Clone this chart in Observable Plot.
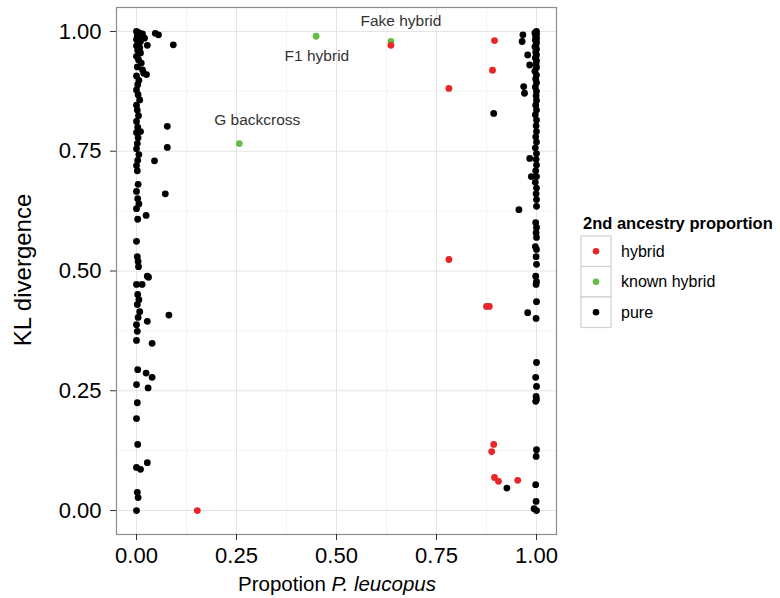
<!DOCTYPE html>
<html><head><meta charset="utf-8">
<script src="https://cdn.jsdelivr.net/npm/d3@7"></script>
<script src="https://cdn.jsdelivr.net/npm/@observablehq/plot@0.6"></script>
<style>body{margin:0;background:#fff;font-family:"Liberation Sans",Arial,Helvetica,sans-serif}</style>
</head><body><div id="chart"></div>
<script>
// ---- data ----
const pureLeftX = [0.000,0.004,0.008,0.015,0.020,0.002,0.006,0.000,0.010,0.004,0.000,0.008,0.003,0.010,0.000,0.005,0.012,0.002,0.015,0.000,0.006,0.003,0.000,0.004,0.008,0.000,0.002,0.005,0.000,0.003,0.000,0.004,0.002,0.000,0.006,0.003,0.000,0.002,0.004,0.000,0.003,0.006,0.000,0.003,0.000,0.002,0.004,0.005,0.000,0.003,0.006,0.002,0.008,0.004,0.000,0.002,0.000,0.003,0.000,0.002,0.000,0.003,0.000,0.002,0.004];
const pureLeftY = [1.000,0.998,0.996,0.995,0.986,0.990,0.987,0.983,0.979,0.975,0.970,0.966,0.961,0.955,0.948,0.941,0.934,0.926,0.920,0.907,0.898,0.889,0.878,0.868,0.857,0.846,0.836,0.824,0.812,0.800,0.789,0.778,0.766,0.755,0.743,0.731,0.720,0.709,0.681,0.666,0.651,0.640,0.630,0.608,0.562,0.530,0.520,0.509,0.472,0.451,0.440,0.430,0.415,0.403,0.388,0.374,0.355,0.294,0.263,0.225,0.192,0.138,0.090,0.038,0.027];
const pureLeftExtraX = [0.047,0.055,0.027,0.092,0.018,0.025,0.077,0.010,0.077,0.045,0.072,0.024,0.027,0.030,0.014,0.081,0.027,0.039,0.024,0.039,0.029,0.027,0.010,0.000];
const pureLeftExtraY = [0.996,0.993,0.971,0.972,0.913,0.910,0.802,0.791,0.758,0.730,0.661,0.616,0.489,0.487,0.472,0.408,0.395,0.349,0.287,0.278,0.256,0.100,0.086,0.000];
const pureRightX = [1.000,0.996,1.000,0.998,1.000,0.997,1.000,0.999,0.996,1.000,0.998,1.000,0.997,1.000,0.999,1.000,0.996,1.000,0.998,1.000,0.997,1.000,0.999,1.000,0.998,1.000,0.997,1.000,0.999,1.000,0.998,1.000,0.997,1.000,0.999,1.000,0.998,1.000,0.997,1.000,0.999,1.000,1.000,0.998,1.000,0.999,1.000,0.997,1.000,0.999,1.000,0.998,1.000,0.999,1.000,0.999,1.000,0.998,1.000,0.999,1.000,0.998,1.000,0.999,0.998,0.994,1.000];
const pureRightY = [1.000,0.997,0.994,0.990,0.986,0.982,0.978,0.973,0.968,0.963,0.957,0.951,0.945,0.939,0.932,0.925,0.917,0.909,0.901,0.893,0.884,0.875,0.866,0.856,0.846,0.836,0.826,0.815,0.803,0.791,0.780,0.769,0.757,0.745,0.733,0.721,0.709,0.697,0.685,0.673,0.661,0.649,0.635,0.601,0.591,0.580,0.570,0.551,0.545,0.530,0.514,0.489,0.478,0.472,0.436,0.401,0.309,0.278,0.259,0.238,0.232,0.228,0.127,0.113,0.054,0.004,0.000];
const pureRightExtraX = [0.966,0.964,0.978,0.983,0.968,0.970,0.983,0.987,0.956,0.978,0.926,0.893,0.999];
const pureRightExtraY = [0.993,0.979,0.951,0.930,0.885,0.871,0.735,0.697,0.628,0.413,0.047,0.829,0.019];
const hybridX = [0.152,0.636,0.781,0.895,0.890,0.781,0.875,0.882,0.893,0.888,0.895,0.905,0.953];
const hybridY = [0.000,0.971,0.881,0.981,0.919,0.524,0.426,0.426,0.138,0.123,0.069,0.061,0.063];
const knownX = [0.449,0.636,0.257];
const knownY = [0.990,0.979,0.766];
const labelText = ["F1 hybrid","Fake hybrid","G backcross"];
const labelX = [0.451,0.661,0.302];
const labelY = [0.948,1.021,0.816];
const categories = ["hybrid","known hybrid","pure"];
const colors = ["#e8262a","#66bd45","#000000"];
const majorTicks = [0,0.25,0.5,0.75,1];
const minorTicks = [0.125,0.375,0.625,0.875];

// ---- build rows ----
const rows = [];
const add = (xs, ys, g) => xs.forEach((x, i) => rows.push({x, y: ys[i], g}));
add(pureLeftX, pureLeftY, "pure");
add(pureLeftExtraX, pureLeftExtraY, "pure");
add(pureRightX, pureRightY, "pure");
add(pureRightExtraX, pureRightExtraY, "pure");
add(knownX, knownY, "known hybrid");
add(hybridX, hybridY, "hybrid");
const labels = labelText.map((t, i) => ({t, x: labelX[i], y: labelY[i]}));

const W = 780, H = 598;
const FONT = '"Liberation Sans", Arial, Helvetica, sans-serif';
const svg = Plot.plot({
  width: W, height: H,
  marginLeft: 116, marginRight: 224, marginTop: 7, marginBottom: 64,
  style: {fontFamily: FONT, background: "#fff"},
  x: {domain: [-0.05, 1.05]},
  y: {domain: [-0.05, 1.05]},
  color: {domain: categories, range: colors},
  marks: [
    Plot.ruleX(minorTicks, {stroke: "#f4f4f4", strokeWidth: 1}),
    Plot.ruleY(minorTicks, {stroke: "#f4f4f4", strokeWidth: 1}),
    Plot.ruleX(majorTicks, {stroke: "#e4e4e4", strokeWidth: 1}),
    Plot.ruleY(majorTicks, {stroke: "#e4e4e4", strokeWidth: 1}),
    Plot.dot(rows, {x: "x", y: "y", fill: "g", r: 3.4, stroke: "none"}),
    Plot.text(labels, {x: "x", y: "y", text: "t", fontSize: 15.5, fill: "#333"}),
    Plot.frame({stroke: "#8c8c8c", strokeWidth: 1.2}),
    Plot.axisX(majorTicks, {tickFormat: d3.format(".2f"), fontSize: 22, tickSize: 6, tickPadding: 7, label: null, color: "#000", stroke: "#333"}),
    Plot.axisY(majorTicks, {tickFormat: d3.format(".2f"), fontSize: 22, tickSize: 6, tickPadding: 9, label: null, color: "#000", stroke: "#333"})
  ]
});
document.getElementById("chart").appendChild(svg);

const s = d3.select(svg);
// axis titles
s.append("text").attr("transform", "translate(31,270) rotate(-90)")
  .attr("text-anchor", "middle").attr("font-size", 24).attr("fill", "#000").text("KL divergence");
const xt = s.append("text").attr("x", 337).attr("y", 591).attr("text-anchor", "middle")
  .attr("font-size", 20.5).attr("fill", "#000");
xt.append("tspan").text("Propotion ");
xt.append("tspan").attr("font-style", "italic").text("P. leucopus");

// legend
const lg = s.append("g").attr("transform", "translate(581,0)").attr("text-anchor", "start");
lg.append("text").attr("x", 2).attr("y", 229).attr("font-size", 16.5).attr("font-weight", "bold")
  .attr("text-anchor", "start").attr("fill", "#000").text("2nd ancestry proportion");
categories.forEach((c, i) => {
  const y0 = 236 + i * 30.5;
  lg.append("rect").attr("x", 0).attr("y", y0).attr("width", 30).attr("height", 30.5)
    .attr("fill", "#fff").attr("stroke", "#d0d0d0").attr("stroke-width", 1.2);
  lg.append("circle").attr("cx", 15).attr("cy", y0 + 15.25).attr("r", 3.3).attr("fill", colors[i]);
  lg.append("text").attr("x", 40).attr("y", y0 + 20.5).attr("font-size", 16).attr("text-anchor", "start")
    .attr("fill", "#000").text(c);
});
</script></body></html>
